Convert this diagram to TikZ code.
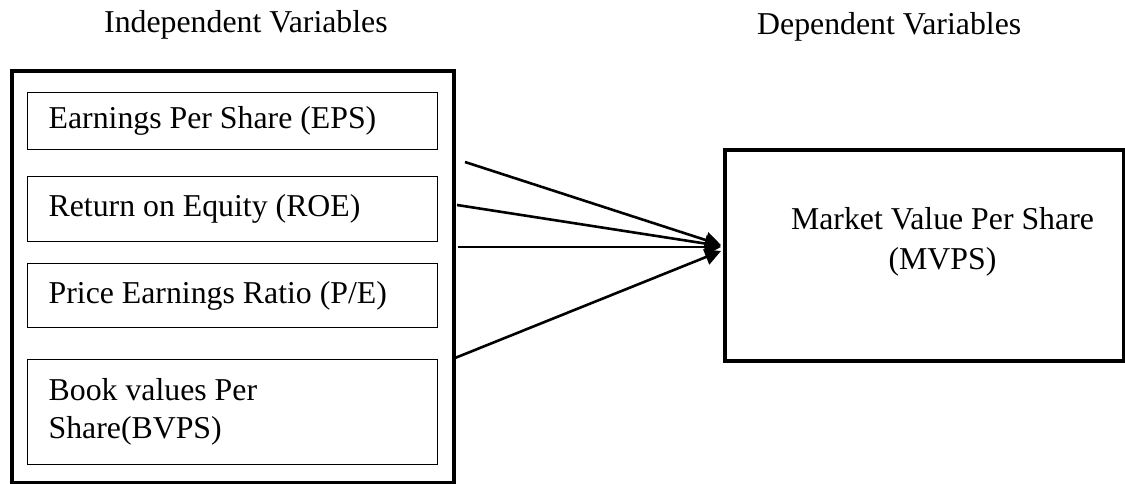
\documentclass[tikz,border=0pt]{standalone}
\usepackage{fontspec}
\setmainfont{Liberation Serif}
\usetikzlibrary{arrows.meta}

\begin{document}
\begin{tikzpicture}[x=1pt,y=-1pt,
  every node/.style={font=\fontsize{31.8}{38}\selectfont},
  title/.style={anchor=base west, inner sep=0pt},
  outerbox/.style={draw, line width=4.3pt},
  varbox/.style={draw, line width=1.3pt, text width=368pt, inner xsep=21pt,
                 inner ysep=0pt, align=flush left, anchor=north west},
  link/.style={line width=2.6pt, -{Triangle[length=16pt,width=16pt]}}
]
\useasboundingbox (0,0) rectangle (1125,484);

% column headings
\node[title] (indep) at (104,33) {Independent Variables};
\node[title] (dep) at (757,35) {Dependent Variables};

% frame around the explanatory variables
\draw[outerbox] (12,71) rectangle (454,483);

% explanatory variables
\node[varbox, minimum height=57pt] (eps) at (27,92) {Earnings Per Share (EPS)};
\node[varbox, minimum height=65pt] (roe) at (27,176) {Return on Equity (ROE)};
\node[varbox, minimum height=64pt] (pe) at (27,263) {Price Earnings Ratio (P/E)};
\node[varbox, minimum height=105pt] (bvps) at (27,359) {Book values Per\\Share(BVPS)};

% outcome variable
\node[draw, line width=4.3pt, minimum width=399pt, minimum height=211pt,
      inner sep=0pt, anchor=north west] (mvps) at (723,148) {};
\node[align=flush center, inner sep=0pt, font=\fontsize{31.8}{40}\selectfont]
  (mvpstext) at (942.5,242) {Market Value Per Share\\(MVPS)};

% arrows from the frame into the outcome box
\coordinate (s1) at (465,162);
\coordinate (s2) at (457,205);
\coordinate (s3) at (458,247);
\coordinate (s4) at (455,358);
\coordinate (t1) at (721,245);
\coordinate (t2) at (721,246);
\coordinate (t3) at (721,247);
\coordinate (t4) at (721,251);
\draw[link] (s1) -- (t1);
\draw[link] (s2) -- (t2);
\draw[link] (s3) -- (t3);
\draw[link] (s4) -- (t4);
\end{tikzpicture}
\end{document}
